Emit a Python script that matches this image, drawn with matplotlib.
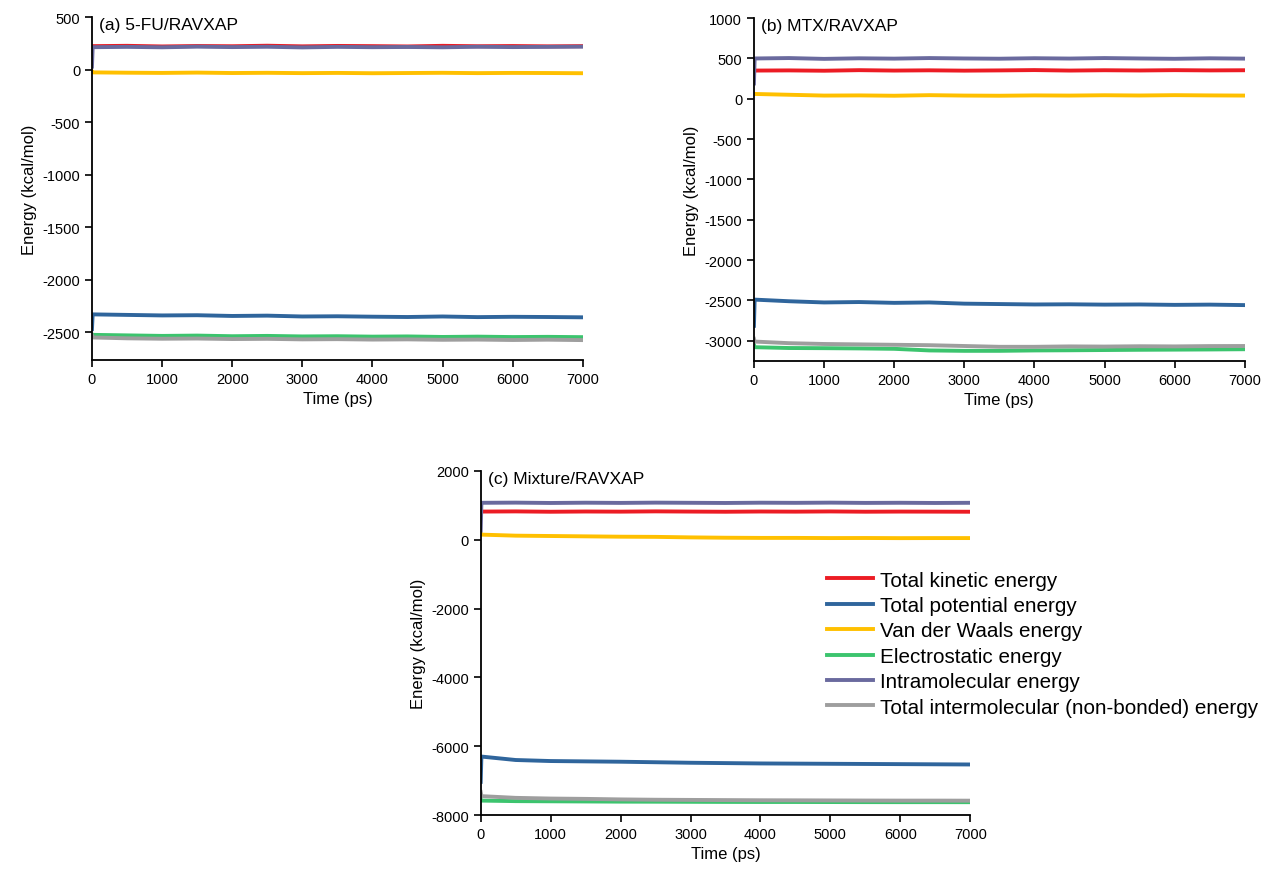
import matplotlib
matplotlib.use("Agg")
import matplotlib.pyplot as plt
import numpy as np

plt.rcParams['font.family'] = ['Liberation Sans', 'DejaVu Sans']
plt.rcParams['axes.unicode_minus'] = False

# time points (ps)
time_ps = [0, 10, 500, 1000, 1500, 2000, 2500, 3000, 3500, 4000, 4500, 5000, 5500, 6000, 6500, 7000]

labels = ["Total kinetic energy", "Total potential energy", "Van der Waals energy",
          "Electrostatic energy", "Intramolecular energy",
          "Total intermolecular (non-bonded) energy"]
colors = ["#ec1c24", "#2f659c", "#ffc000", "#3cc46e", "#6a6a9e", "#9e9e9e"]

# (a) 5-FU/RAVXAP
a_kinetic = [200, 225, 228, 222, 226, 224, 229, 223, 227, 225, 222, 228, 224, 226, 223, 225]
a_potential = [-2470, -2330, -2335, -2340, -2338, -2345, -2342, -2350, -2348, -2352, -2355, -2350, -2356, -2353, -2355, -2358]
a_vdw = [-15, -25, -28, -30, -27, -31, -29, -32, -30, -33, -31, -29, -32, -30, -31, -33]
a_elec = [-2520, -2525, -2530, -2535, -2532, -2538, -2535, -2540, -2538, -2542, -2540, -2545, -2542, -2546, -2544, -2547]
a_intra = [30, 215, 218, 214, 220, 216, 219, 213, 218, 215, 217, 214, 219, 216, 218, 220]
a_inter = [-2530, -2550, -2558, -2562, -2560, -2565, -2563, -2568, -2566, -2570, -2568, -2572, -2570, -2574, -2571, -2575]

# (b) MTX/RAVXAP
b_kinetic = [330, 350, 352, 348, 355, 350, 353, 349, 352, 356, 350, 354, 351, 355, 352, 354]
b_potential = [-2815, -2490, -2510, -2525, -2520, -2530, -2525, -2540, -2545, -2550, -2548, -2552, -2550, -2555, -2552, -2558]
b_vdw = [65, 60, 50, 40, 42, 38, 45, 40, 38, 42, 40, 44, 41, 45, 42, 40]
b_elec = [-3050, -3080, -3090, -3092, -3095, -3100, -3120, -3125, -3125, -3120, -3118, -3115, -3112, -3110, -3108, -3105]
b_intra = [190, 500, 505, 495, 502, 498, 505, 500, 497, 503, 499, 505, 500, 496, 502, 498]
b_inter = [-2976, -3010, -3030, -3040, -3045, -3050, -3055, -3065, -3075, -3075, -3070, -3072, -3068, -3070, -3066, -3065]

# (c) Mixture/RAVXAP
c_kinetic = [760, 820, 825, 815, 822, 818, 826, 820, 815, 822, 818, 824, 816, 820, 818, 815]
c_potential = [-7035, -6300, -6400, -6430, -6440, -6450, -6465, -6480, -6490, -6500, -6505, -6510, -6515, -6520, -6525, -6530]
c_vdw = [180, 150, 120, 110, 100, 90, 85, 70, 60, 55, 55, 50, 52, 48, 50, 50]
c_elec = [-7550, -7580, -7595, -7600, -7605, -7610, -7612, -7615, -7618, -7620, -7620, -7622, -7624, -7625, -7625, -7626]
c_intra = [270, 1075, 1080, 1070, 1078, 1072, 1080, 1075, 1070, 1078, 1074, 1080, 1072, 1076, 1070, 1075]
c_inter = [-7330, -7450, -7500, -7520, -7530, -7545, -7555, -7560, -7565, -7570, -7572, -7575, -7578, -7580, -7580, -7582]

panels = [
    ("(a) 5-FU/RAVXAP", [a_kinetic, a_potential, a_vdw, a_elec, a_intra, a_inter],
     [0.0727, 0.585, 0.388, 0.394], (-2765, 500), np.arange(-2500, 501, 500)),
    ("(b) MTX/RAVXAP", [b_kinetic, b_potential, b_vdw, b_elec, b_intra, b_inter],
     [0.596, 0.584, 0.388, 0.394], (-3250, 1000), np.arange(-3000, 1001, 500)),
    ("(c) Mixture/RAVXAP", [c_kinetic, c_potential, c_vdw, c_elec, c_intra, c_inter],
     [0.380, 0.062, 0.387, 0.3955], (-8000, 2000), np.arange(-8000, 2001, 2000)),
]

fig = plt.figure(figsize=(12.65, 8.7), dpi=100)

handles = []
for title, series, rect, ylim, yticks in panels:
    ax = fig.add_axes(rect)
    lines = []
    for vals, col, lab in zip(series, colors, labels):
        ln, = ax.plot(time_ps, vals, color=col, lw=2.8, label=lab, solid_joinstyle='round')
        lines.append(ln)
    handles = lines
    ax.set_xlim(0, 7000)
    ax.set_ylim(*ylim)
    ax.set_xticks(np.arange(0, 7001, 1000))
    ax.set_yticks(yticks)
    for s in ["top", "right"]:
        ax.spines[s].set_visible(False)
    ax.spines["left"].set_linewidth(1.3)
    ax.spines["bottom"].set_linewidth(1.3)
    ax.tick_params(direction="out", length=5, width=1.2, labelsize=10.5)
    ax.set_xlabel("Time (ps)", fontsize=12)
    ax.set_ylabel("Energy (kcal/mol)", fontsize=12)
    ax.text(0.015, 1.0, title, transform=ax.transAxes, ha="left", va="top", fontsize=12.5)

fig.legend(handles, labels, loc="upper left", bbox_to_anchor=(0.654, 0.343),
           frameon=False, fontsize=14.9, handlelength=2.2, handletextpad=0.33,
           labelspacing=0.31, borderpad=0, borderaxespad=0)

fig.savefig("out.png", dpi=100)
